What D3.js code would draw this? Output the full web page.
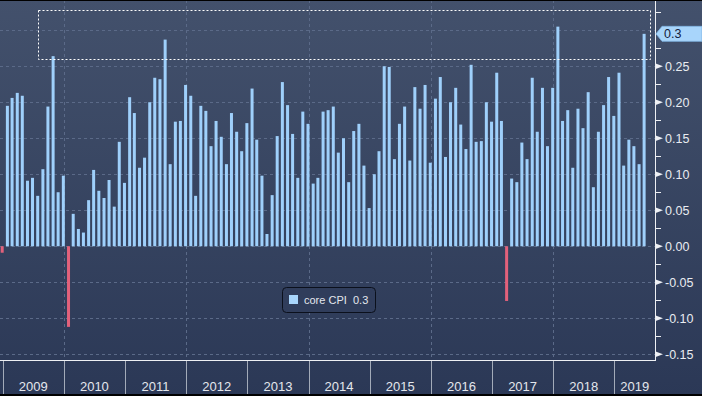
<!DOCTYPE html>
<html>
<head>
<meta charset="utf-8">
<script src="https://cdn.jsdelivr.net/npm/d3@7"></script>
<style>
  html, body { margin: 0; padding: 0; background: #2c3957; }
  svg { display: block; font-family: "Liberation Sans", Arial, sans-serif; }
</style>
</head>
<body>
<div id="chart"></div>
<script>
// monthly core CPI, % m/m, Dec 2008 .. Jun 2019
const firstMonth = Date.UTC(2008, 11, 1);
const coreCPI = [
  -0.009,
  0.195, 0.206, 0.213, 0.209, 0.091, 0.095, 0.070, 0.107, 0.194, 0.264, 0.075, 0.098,
  -0.112, 0.045, 0.024, 0.019, 0.064, 0.106, 0.077, 0.067, 0.092, 0.055, 0.145, 0.088,
  0.207, 0.185, 0.109, 0.123, 0.200, 0.234, 0.232, 0.287, 0.114, 0.173, 0.174, 0.224,
  0.209, 0.070, 0.195, 0.188, 0.139, 0.174, 0.152, 0.114, 0.185, 0.159, 0.132, 0.171,
  0.219, 0.148, 0.098, 0.017, 0.071, 0.153, 0.228, 0.196, 0.156, 0.095, 0.187, 0.170,
  0.087, 0.095, 0.187, 0.189, 0.194, 0.130, 0.150, 0.089, 0.160, 0.170, 0.112, 0.053,
  0.100, 0.132, 0.250, 0.249, 0.121, 0.170, 0.194, 0.119, 0.221, 0.191, 0.224, 0.116,
  0.205, 0.235, 0.124, 0.200, 0.220, 0.169, 0.135, 0.252, 0.145, 0.146, 0.200, 0.173,
  0.241, 0.174, -0.076, 0.094, 0.089, 0.144, 0.121, 0.234, 0.159, 0.220, 0.139, 0.220,
  0.305, 0.174, 0.189, 0.109, 0.191, 0.164, 0.214, 0.082, 0.159, 0.196, 0.235, 0.181,
  0.241, 0.112, 0.148, 0.139, 0.114, 0.295
];
const years = [2009, 2010, 2011, 2012, 2013, 2014, 2015, 2016, 2017, 2018, 2019];
const gridYears = [2010, 2012, 2014, 2016, 2018];
const majorTicks = [-0.15, -0.10, -0.05, 0.00, 0.05, 0.10, 0.15, 0.20, 0.25];
const gridTicks = [-0.15, -0.10, -0.05, 0.00, 0.05, 0.10, 0.15, 0.20, 0.25, 0.30];
const minorTicks = [-0.125, -0.075, -0.025, 0.025, 0.075, 0.125, 0.175, 0.225, 0.275, 0.325];
const seriesName = "core CPI";
// highlight box drawn on the chart
const boxFrom = Date.UTC(2009, 7, 1), boxTo = Date.UTC(2019, 7, 5);
const boxLow = 0.2595, boxHigh = 0.3275;

const width = 702, height = 396;
const plotRight = 655, plotBottom = 360;

const svg = d3.select("#chart").append("svg")
  .attr("width", width).attr("height", height);

const grad = svg.append("defs").append("linearGradient")
  .attr("id", "bg").attr("x1", 0).attr("y1", 0).attr("x2", 0).attr("y2", 1);
grad.append("stop").attr("offset", "0%").attr("stop-color", "#43516c");
grad.append("stop").attr("offset", "100%").attr("stop-color", "#2b3856");

svg.append("rect").attr("width", width).attr("height", height).attr("fill", "url(#bg)");

const x = d3.scaleUtc()
  .domain([Date.UTC(2009, 0, 1), Date.UTC(2019, 0, 1)])
  .range([2.7, 614.3]);
const y = d3.scaleLinear()
  .domain([-0.158, 0.342])
  .range([plotBottom, 0]);

const data = coreCPI.map((v, i) => ({
  end: d3.utcMonth.offset(new Date(firstMonth), i + 1),
  value: v
}));

// grid
const grid = svg.append("g")
  .attr("stroke", "#5b6a88").attr("stroke-dasharray", "3,3").attr("stroke-width", 1);
grid.selectAll("line.h").data(gridTicks).enter().append("line")
  .attr("x1", 0).attr("x2", plotRight)
  .attr("y1", d => Math.round(y(d)) + 0.5).attr("y2", d => Math.round(y(d)) + 0.5);
grid.selectAll("line.v").data(gridYears).enter().append("line")
  .attr("x1", d => Math.round(x(Date.UTC(d, 0, 1))) + 0.5)
  .attr("x2", d => Math.round(x(Date.UTC(d, 0, 1))) + 0.5)
  .attr("y1", 0).attr("y2", plotBottom);

// bars
svg.append("g").selectAll("rect").data(data).enter().append("rect")
  .attr("x", d => x(d.end) - 2)
  .attr("width", 3)
  .attr("y", d => y(Math.max(0, d.value)))
  .attr("height", d => Math.abs(y(d.value) - y(0)))
  .attr("fill", d => d.value < 0 ? "#e2617b" : "#9fd0fb");

// dashed highlight box
svg.append("rect")
  .attr("x", Math.round(x(boxFrom)) + 0.5)
  .attr("y", Math.round(y(boxHigh)) + 0.5)
  .attr("width", Math.round(x(boxTo) - x(boxFrom)))
  .attr("height", Math.round(y(boxLow) - y(boxHigh)))
  .attr("fill", "none").attr("stroke", "#ffffff")
  .attr("stroke-width", 1).attr("stroke-dasharray", "2,2");

// axes lines
svg.append("line").attr("x1", plotRight + 0.5).attr("x2", plotRight + 0.5)
  .attr("y1", 0).attr("y2", plotBottom + 1).attr("stroke", "#eef0f4");
svg.append("line").attr("x1", 0).attr("x2", plotRight)
  .attr("y1", plotBottom + 0.5).attr("y2", plotBottom + 0.5).attr("stroke", "#eef0f4");

// right axis ticks
const fmt = v => d3.format(".2f")(v).replace("\u2212", "-");
const ra = svg.append("g");
ra.selectAll("line").data(minorTicks).enter().append("line")
  .attr("x1", plotRight).attr("x2", plotRight + 6)
  .attr("y1", d => Math.round(y(d)) + 0.5).attr("y2", d => Math.round(y(d)) + 0.5)
  .attr("stroke", "#eef0f4");
ra.selectAll("path").data(majorTicks).enter().append("path")
  .attr("d", d => {
    const yy = y(d);
    return `M${plotRight},${yy - 3}L${plotRight + 8},${yy}L${plotRight},${yy + 3}Z`;
  })
  .attr("fill", "#eef0f4");
ra.selectAll("text").data(majorTicks).enter().append("text")
  .attr("x", plotRight + 10)
  .attr("y", d => y(d))
  .attr("dy", "0.36em")
  .attr("font-size", 12.5)
  .attr("fill", "#e9ecf1")
  .text(fmt);

// bottom year axis
const xa = svg.append("g");
xa.selectAll("line").data(years).enter().append("line")
  .attr("x1", d => Math.round(x(Date.UTC(d, 0, 1))) + 0.5)
  .attr("x2", d => Math.round(x(Date.UTC(d, 0, 1))) + 0.5)
  .attr("y1", plotBottom + 1).attr("y2", 394)
  .attr("stroke", "#a3abb9");
xa.selectAll("text").data(years).enter().append("text")
  .attr("x", d => (x(Date.UTC(d, 0, 1)) + Math.min(plotRight, x(Date.UTC(d + 1, 0, 1)))) / 2)
  .attr("y", 390.5)
  .attr("text-anchor", "middle")
  .attr("font-size", 13)
  .attr("fill", "#e4e7ed")
  .text(d => d);

// last value tag
const last = data[data.length - 1];
const ty = y(last.value);
svg.append("path")
  .attr("d", `M${plotRight + 1},${ty}L${plotRight + 7},${ty - 7.5}L${width},${ty - 7.5}L${width},${ty + 7.5}L${plotRight + 7},${ty + 7.5}Z`)
  .attr("fill", "#a8d5fb").attr("stroke", "#7fb4e2").attr("stroke-width", 0.8);
svg.append("text")
  .attr("x", plotRight + 9).attr("y", ty).attr("dy", "0.36em")
  .attr("font-size", 12.5).attr("fill", "#14213b")
  .text(d3.format(".1f")(last.value));

// legend
const lg = svg.append("g");
lg.append("rect").attr("x", 282.5).attr("y", 287.5).attr("width", 93).attr("height", 25)
  .attr("rx", 4).attr("fill", "#303d5b").attr("stroke", "#0b101c").attr("stroke-width", 1);
lg.append("rect").attr("x", 289).attr("y", 295).attr("width", 9).attr("height", 9)
  .attr("fill", "#a8d5fb");
lg.append("text").attr("x", 304).attr("y", 304).attr("font-size", 11)
  .attr("fill", "#e4e7ed").text(seriesName);
lg.append("text").attr("x", 353).attr("y", 304).attr("font-size", 11)
  .attr("fill", "#e4e7ed").text(d3.format(".1f")(last.value));

// frame
svg.append("rect").attr("x", 0).attr("y", 0).attr("width", width).attr("height", 1).attr("fill", "#000");
svg.append("rect").attr("x", 0).attr("y", 394).attr("width", width).attr("height", 2).attr("fill", "#000");
</script>
</body>
</html>
